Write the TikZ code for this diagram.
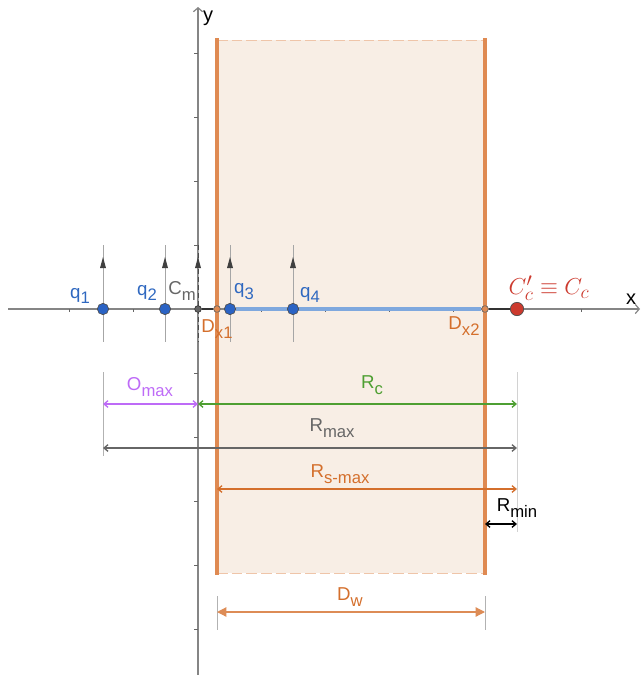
\documentclass[tikz,border=0pt]{standalone}
\usepackage{fontspec}
\setmainfont{Liberation Sans}
\usetikzlibrary{arrows.meta,backgrounds}
\definecolor{ptblue}{HTML}{2B63C4}
\definecolor{lblue}{HTML}{2F68C0}
\definecolor{segblue}{HTML}{7FA8DE}
\definecolor{wallor}{HTML}{DF8A52}
\definecolor{txtor}{HTML}{D46F2C}
\definecolor{fillor}{HTML}{F8EEE5}
\definecolor{ccred}{HTML}{CC3A2E}
\definecolor{dgreen}{HTML}{4E9F32}
\definecolor{dpurple}{HTML}{BE6BF7}
\definecolor{dgray}{HTML}{666666}
\newcommand\lowsub[1]{\raisebox{-0.6ex}{\fontsize{12.5}{13}\selectfont #1}}
\tikzset{
  axisline/.style={draw=dgray!80, line width=0.9pt},
  tickline/.style={draw=dgray, line width=0.6pt},
  vecline/.style={draw=gray!70, line width=0.5pt},
  bpt/.style={circle, fill=ptblue, draw=black!70, line width=0.5pt, inner sep=0pt, minimum size=8.5pt},
  spt/.style={circle, draw=black!80, line width=0.5pt, inner sep=0pt, minimum size=5pt},
  lbl/.style={inner sep=0pt, font=\fontsize{14}{16}\selectfont},
  ext/.style={draw=gray!60, line width=0.5pt},
  wall/.style={draw=wallor, line width=2.6pt},
  dimbarb/.style={line width=1pt, {Straight Barb[length=3pt,width=5pt]}-{Straight Barb[length=3pt,width=5pt]}}
}
\begin{document}
\begin{tikzpicture}[x=0.75pt,y=-0.75pt]
\useasboundingbox (0,0) rectangle (643,675);
\begin{scope}[on background layer]
% wall region
\fill[fillor] (217,40) rectangle (485,573);
\draw[wallor!50, line width=0.7pt, dash pattern=on 8pt off 3pt] (217,40) -- (485,40);
\draw[wallor!50, line width=0.7pt, dash pattern=on 8pt off 3pt] (217,573) -- (485,573);
% axes
\coordinate (xl) at (8,309); \coordinate (xr) at (640,309);
\coordinate (yb) at (198,675); \coordinate (yt) at (198,7);
\draw[axisline, -{Straight Barb[length=3pt,width=7pt]}] (xl) -- (xr);
\draw[axisline, -{Straight Barb[length=3pt,width=7pt]}] (yb) -- (yt);
\foreach \t in {69,133,261,325,389,453,517,581} \draw[tickline] (\t,309) -- (\t,312);
\foreach \t in {53,117,181,245,373,437,501,565,629} \draw[tickline] (194,\t) -- (198,\t);
% walls
\draw[wall] (217,38) -- (217,575);
\draw[wall] (485,38) -- (485,575);
% vertical vectors
\foreach \xx in {103,165,230,293} {
  \draw[vecline] (\xx,245) -- (\xx,342);
  \fill[black!75] (\xx,257) -- (\xx-3,268) -- (\xx+3,268) -- cycle;
}
\draw[vecline] (198,245) -- (198,342);
\draw[black!70, line width=0.6pt, dash pattern=on 4pt off 2pt] (198,245) -- (198,342);
\fill[black!75] (198,257) -- (195,268) -- (201,268) -- cycle;
\end{scope}
\node[lbl, font=\fontsize{15}{16}\selectfont] (xlab) at (631,299) {x};
\node[lbl, font=\fontsize{15}{16}\selectfont] (ylab) at (208,18) {y};
% points
\node[bpt] (q1) at (103,309) {};
\node[bpt] (q2) at (165,309) {};
\node[spt, fill=dgray] (cm) at (198,309) {};
\node[spt, fill=wallor, draw=black!60] (dx1) at (217,309) {};
\node[bpt] (q3) at (230,309) {};
\node[bpt] (q4) at (293,309) {};
\node[spt, fill=wallor, draw=black!60] (dx2) at (485,309) {};
\node[circle, fill=ccred, draw=black!70, line width=0.5pt, inner sep=0pt, minimum size=10pt] (cc) at (517,309) {};
% segments on axis
\begin{scope}[on background layer]
\draw[black!80, line width=1.1pt] (cm) -- (dx1);
\draw[segblue, line width=2.6pt] (q3) -- (dx2);
\draw[black!80, line width=1.1pt] (dx2) -- (cc);
\end{scope}
% point labels
\node[lbl, text=lblue] (q1l) at (80,296) {q\lowsub{1}};
\node[lbl, text=lblue] (q2l) at (147,293) {q\lowsub{2}};
\node[lbl, text=dgray] (cml) at (182,291) {C\lowsub{m}};
\node[lbl, text=lblue] (q3l) at (244,292) {q\lowsub{3}};
\node[lbl, text=lblue] (q4l) at (310,295) {q\lowsub{4}};
\node[lbl, text=txtor] (dx1l) at (217,329) {D\lowsub{x1}};
\node[lbl, text=txtor] (dx2l) at (464,326) {D\lowsub{x2}};
\node[inner sep=0pt, text=ccred, font=\fontsize{19}{20}\selectfont] (ccl) at (549,288) {$C'_c\equiv C_c$};
% extension lines
\coordinate (e1t) at (103,372); \coordinate (e1b) at (103,456);
\coordinate (e2t) at (517,372); \coordinate (e2b) at (517,532);
\draw[ext] (e1t) -- (e1b);
\draw[ext, draw=gray!35] (e2t) -- (e2b);
\coordinate (w1t) at (217,596); \coordinate (w1b) at (217,630);
\coordinate (w2t) at (485,596); \coordinate (w2b) at (485,630);
\draw[ext] (w1t) -- (w1b);
\draw[ext] (w2t) -- (w2b);
% dimensions
\coordinate (oA) at (103,404); \coordinate (oB) at (198,404); \coordinate (oC) at (517,404);
\draw[dimbarb, dpurple] (oA) -- (oB);
\draw[dimbarb, dgreen] (oB) -- (oC);
\node[lbl, text=dpurple] (omaxl) at (150,387) {O\lowsub{max}};
\node[lbl, text=dgreen] (rcl) at (372,385) {R\lowsub{c}};
\coordinate (mA) at (103,448); \coordinate (mB) at (517,448);
\draw[dimbarb, dgray] (mA) -- (mB);
\node[lbl, text=dgray] (rmaxl) at (332,428) {R\lowsub{max}};
\coordinate (sA) at (217,489); \coordinate (sB) at (517,489);
\draw[dimbarb, txtor] (sA) -- (sB);
\node[lbl, text=txtor] (rsl) at (340,474) {R\lowsub{s-max}};
\coordinate (nA) at (485,524); \coordinate (nB) at (517,524);
\draw[dimbarb, black] (nA) -- (nB);
\node[lbl, text=black] (rminl) at (517,508) {R\lowsub{min}};
\coordinate (dA) at (217,612); \coordinate (dB) at (485,612);
\draw[txtor!80, line width=0.9pt, {Triangle[length=7pt,width=7pt]}-{Triangle[length=7pt,width=7pt]}] (dA) -- (dB);
\node[lbl, text=txtor] (dwl) at (350,597) {D\lowsub{w}};
\end{tikzpicture}
\end{document}
